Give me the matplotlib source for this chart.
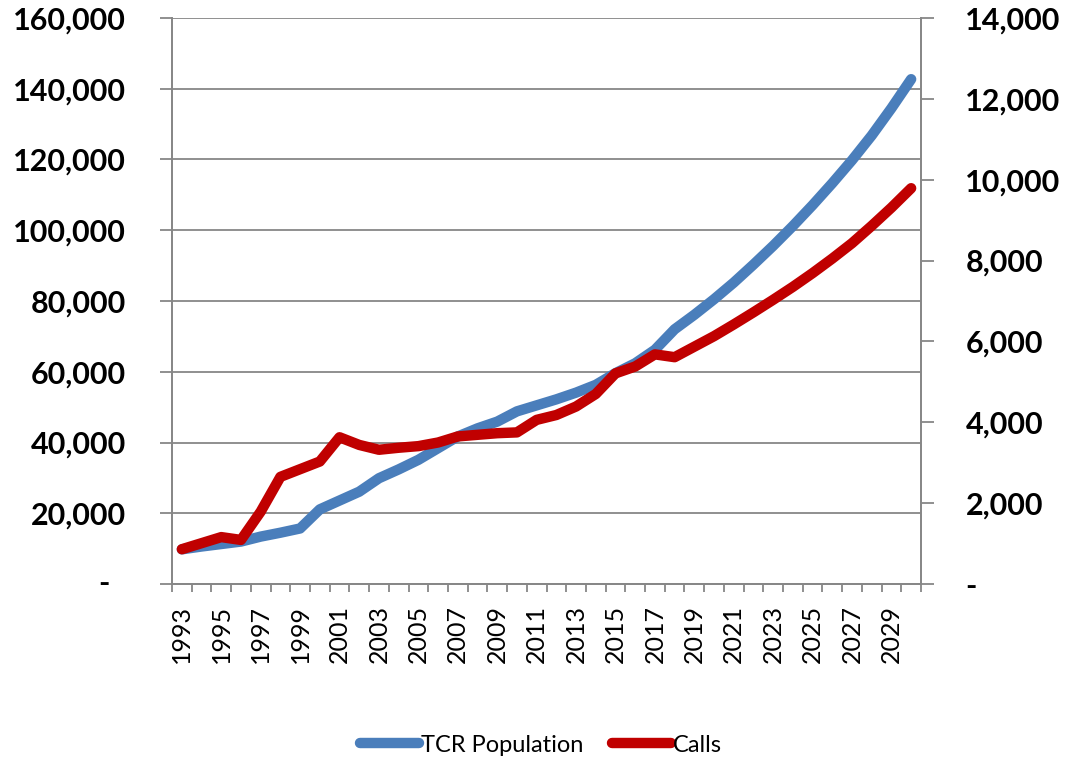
import matplotlib
matplotlib.use("Agg")
import matplotlib.pyplot as plt
import numpy as np
from matplotlib.ticker import FuncFormatter, FixedLocator

years = list(range(1993, 2031))
population = [9800, 10600, 11300, 12000, 13400, 14500, 15700, 21100, 23600, 26100,
              29900, 32400, 35100, 38400, 41700, 44000, 45900, 48800, 50500, 52200,
              54100, 56300, 59600, 62400, 66200, 72000, 76100, 80500, 85200, 90300,
              95600, 101200, 107100, 113300, 119800, 126800, 134500, 142700]
calls = [860, 1010, 1160, 1090, 1790, 2650, 2840, 3030, 3630, 3440,
         3320, 3370, 3410, 3500, 3650, 3690, 3730, 3750, 4060, 4180,
         4390, 4700, 5210, 5380, 5680, 5610, 5870, 6130, 6420, 6720,
         7030, 7350, 7690, 8050, 8430, 8860, 9310, 9790]
left_ticks = [0, 20000, 40000, 60000, 80000, 100000, 120000, 140000, 160000]
right_ticks = [0, 2000, 4000, 6000, 8000, 10000, 12000, 14000]

blue = "#4A7EBB"
red = "#C00000"
grey = "#878787"

plt.rcParams['font.family'] = ['Lato', 'DejaVu Sans']

fig = plt.figure(figsize=(10.69, 7.6), dpi=100)
ax = fig.add_axes([172/1069, 1-584/760, (921-172)/1069, (584-18)/760])
ax2 = ax.twinx()

x = np.arange(len(years))
ax.plot(x, population, color=blue, lw=7.5, solid_capstyle='round', solid_joinstyle='round',
        label='TCR Population')
ax2.plot(x, calls, color=red, lw=7.5, solid_capstyle='round', solid_joinstyle='round',
         label='Calls')

ax.set_xlim(-0.5, len(years) - 0.5)
ax.set_ylim(0, 160000)
ax2.set_ylim(0, 14000)

def fmt(v, pos):
    if v == 0:
        return ''
    return f'{int(v):,}'

def fmt_r(v, pos):
    if v == 0:
        return '-'
    return f'{int(v):,}'

ax.yaxis.set_major_locator(FixedLocator(left_ticks))
ax.yaxis.set_major_formatter(FuncFormatter(fmt))
ax2.yaxis.set_major_locator(FixedLocator(right_ticks))
ax2.yaxis.set_major_formatter(FuncFormatter(fmt_r))

# zero label on the left axis shows as a dash, set in from the number column
dash_tr = ax.get_yaxis_transform() + matplotlib.transforms.ScaledTranslation(-68/100, 0, fig.dpi_scale_trans)
ax.text(0, 0, '-', transform=dash_tr, fontsize=22, fontweight='bold', ha='center', va='center')

ax.grid(axis='y', color=grey, lw=1.3)
ax.set_axisbelow(True)

# x axis: labels at category centres, ticks at boundaries
ax.set_xticks(x[::2])
ax.set_xticklabels([str(y) for y in years[::2]], rotation=90, fontsize=18)
ax.set_xticks(np.arange(-0.5, len(years)), minor=True)
ax.tick_params(axis='x', which='major', length=0, pad=15)
ax.tick_params(axis='x', which='minor', length=6, width=1.3, color=grey, direction='out')

ax.tick_params(axis='y', length=9, width=1.3, color=grey, direction='out', pad=24,
               labelsize=22)
ax2.tick_params(axis='y', length=9, width=1.3, color=grey, direction='out', pad=23,
                labelsize=22)
for lab in ax.get_yticklabels() + ax2.get_yticklabels():
    lab.set_fontweight('bold')

for a in (ax, ax2):
    a.spines['top'].set_visible(False)
    for s in ('left', 'right', 'bottom'):
        a.spines[s].set_color(grey)
        a.spines[s].set_linewidth(1.3)

handles = ax.get_lines() + ax2.get_lines()
leg = fig.legend(handles, [h.get_label() for h in handles], loc='center',
                 bbox_to_anchor=(0.506, 1-745/760), ncol=2, frameon=False,
                 fontsize=17, handlelength=2.5, handletextpad=0.1, columnspacing=1.2)

fig.savefig('out.png', dpi=100)
